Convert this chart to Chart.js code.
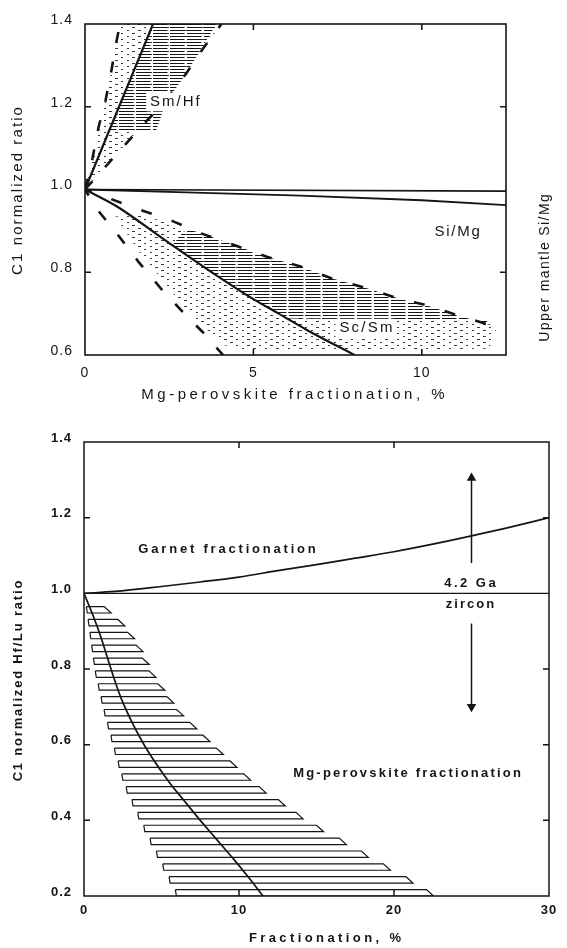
<!DOCTYPE html>
<html><head><meta charset="utf-8">
<script src="https://cdn.jsdelivr.net/npm/chart.js@4.4.1/dist/chart.umd.min.js"></script>
<style>
html,body{margin:0;padding:0;background:#fff;}
#wrap{position:relative;width:567px;height:948px;overflow:hidden;}
#c1{position:absolute;left:0;top:0;}
#c2{position:absolute;left:0;top:410px;}
</style></head><body>
<div id="wrap">
<canvas id="c1" width="567" height="410"></canvas>
<canvas id="c2" width="567" height="538"></canvas>
</div>
<script>
// ================= TOP PANEL DATA =================
const topXTicks = [0, 5, 10];
const topYTicks = [0.6, 0.8, 1.0, 1.2, 1.4];
const smHfLine = [[0, 1.0], [2.02, 1.4]];
const smHfLeftBound = [[0,1.0],[0.21,1.07],[0.4,1.15],[0.61,1.215],[0.79,1.29],[0.94,1.36],[1.04,1.40]];
const smHfRightBound = [[0,1.0],[0.55,1.05],[1.1,1.10],[1.76,1.16],[2.35,1.21],[3.0,1.28],[3.5,1.34],[4.05,1.40]];
const smHfDenseArea = [[0.7,1.14],[2.02,1.4],[3.9,1.4],[3.0,1.28],[2.4,1.21],[2.1,1.14]];
const siMgUpper = [[0,1.0],[12.5,0.996]];
const siMgLower = [[0,1.0],[3,0.993],[6.4,0.985],[10,0.974],[12.5,0.962]];
const scSmLine = [[0,1.0],[0.95,0.959],[2.3,0.882],[3.8,0.798],[5.0,0.735],[5.75,0.70],[6.6,0.66],[8.0,0.6]];
const scSmUpperBound = [[0,1.0],[0.74,0.978],[1.64,0.951],[2.62,0.923],[3.45,0.894],[4.55,0.862],[5.42,0.837],[6.4,0.814],[7.29,0.786],[8.39,0.761],[9.29,0.737],[10.06,0.722],[11.07,0.696],[12.05,0.672]];
const scSmLowerBound = [[0,1.0],[0.39,0.949],[1.0,0.888],[1.6,0.824],[2.27,0.759],[2.9,0.704],[3.5,0.655],[4.1,0.60]];
const scSmDenseArea = [[2.6,0.866],[3.8,0.798],[5.0,0.735],[5.75,0.70],[6.1,0.688],[11.9,0.684],[12.05,0.672],[11.07,0.696],[10.06,0.722],[9.29,0.737],[8.39,0.761],[7.29,0.786],[6.4,0.814],[5.42,0.837],[4.55,0.862],[3.45,0.894],[3.0,0.905]];
const scSmStippleArea = [[0.9,0.935],[1.6,0.85],[2.3,0.78],[2.9,0.72],[3.5,0.67],[4.1,0.625],[4.6,0.612],[12.0,0.615],[12.2,0.66],[12.05,0.672],[11.07,0.69],[10.06,0.715],[9.29,0.73],[8.39,0.755],[7.29,0.78],[6.4,0.808],[5.42,0.83],[4.55,0.855],[3.45,0.885],[2.62,0.915],[1.64,0.94]];
const upperMantleSiMg = [[12.84, 0.809]];

// ================= BOTTOM PANEL DATA =================
const botXTicks = [0, 10, 20, 30];
const botYTicks = [0.2, 0.4, 0.6, 0.8, 1.0, 1.2, 1.4];
const garnetCurve = [[0,1.0],[2,1.005],[5,1.018],[7.5,1.03],[10,1.043],[12.5,1.06],[15,1.076],[17.5,1.093],[20,1.11],[22.5,1.13],[25,1.152],[27.5,1.175],[30,1.2]];
const zirconLine = [[0,1.0],[30,1.0]];
const perovskiteCurve = [[0,1.0],[0.5,0.95],[1,0.895],[1.9,0.78],[2.45,0.717],[3.8,0.605],[5.4,0.506],[6.5,0.45],[7.5,0.40],[8.4,0.357],[9.6,0.30],[10.6,0.25],[11.55,0.2]];
const perovskiteLeftBound = [[0.1,0.98],[0.7,0.80],[1.25,0.70],[1.9,0.60],[2.6,0.50],[3.7,0.40],[4.9,0.30],[6.1,0.20]];
const perovskiteRightBound = [[0.4,0.98],[1.6,0.96],[2.2,0.93],[3.2,0.876],[4.1,0.80],[5.8,0.70],[8.3,0.60],[10.9,0.50],[12.9,0.445],[14.1,0.408],[16.6,0.35],[19.1,0.29],[21.5,0.234],[22.7,0.20]];
const zirconArrowUp = [[25,1.08],[25,1.305]];
const zirconArrowDown = [[25,0.92],[25,0.70]];

// ================= HELPERS =================
const FONT = "'Liberation Sans', Arial, Helvetica, sans-serif";
const INK = '#151515';
const pts = arr => arr.map(([x, y]) => ({x, y}));
const poly = (a, b) => [...a, ...b.slice().reverse()];

function makePattern(w, h, draw) {
  const c = document.createElement('canvas'); c.width = w; c.height = h;
  const g = c.getContext('2d'); draw(g);
  return g.createPattern(c, 'repeat');
}
const densePat = makePattern(17, 3, g => { g.fillStyle = INK; g.fillRect(0, 0, 14, 1); g.fillStyle='rgba(20,20,20,0.5)'; g.fillRect(14,0,1,1); });
const stipplePat = makePattern(23, 6, g => {
  g.fillStyle = 'rgba(20,20,20,0.85)';
  g.fillRect(0, 0, 3, 1); g.fillRect(12, 0, 2, 1);
  g.fillRect(6, 3, 2, 1); g.fillRect(17, 3, 3, 1);
});

const lineDS = (data, o = {}) => Object.assign({
  data: pts(data), showLine: true, borderColor: INK, backgroundColor: INK, borderWidth: 2,
  pointRadius: 0, pointHoverRadius: 0, fill: false, tension: 0, order: 1
}, o);
const areaDS = (data, pat) => ({
  data: pts(data), showLine: true, borderWidth: 0, borderColor: 'rgba(0,0,0,0)',
  backgroundColor: pat, pointRadius: 0, pointHoverRadius: 0, fill: 'shape', order: 5
});

function interpX(bound, yv) {
  for (let i = 0; i < bound.length - 1; i++) {
    const [x1, y1] = bound[i], [x2, y2] = bound[i + 1];
    if ((yv <= y1 && yv >= y2) || (yv >= y1 && yv <= y2)) {
      if (y1 === y2) return x1;
      return x1 + (x2 - x1) * (yv - y1) / (y2 - y1);
    }
  }
  return yv > bound[0][1] ? bound[0][0] : bound[bound.length - 1][0];
}

const spacingPlugin = {
  id: 'spacing',
  beforeDraw(chart, args, o) { chart.ctx.letterSpacing = (o && o.value) || '0px'; }
};

const framePlugin = {
  id: 'frame',
  afterDatasetsDraw(chart, args, o) {
    const {ctx, chartArea: a, scales} = chart;
    ctx.save();
    ctx.strokeStyle = INK; ctx.lineWidth = o.lw;
    ctx.strokeRect(a.left, a.top, a.right - a.left, a.bottom - a.top);
    ctx.beginPath();
    for (const v of o.xTicks) {
      const p = scales.x.getPixelForValue(v);
      ctx.moveTo(p, a.bottom); ctx.lineTo(p, a.bottom - o.len);
      ctx.moveTo(p, a.top); ctx.lineTo(p, a.top + o.len);
    }
    for (const v of o.yTicks) {
      const p = scales.y.getPixelForValue(v);
      ctx.moveTo(a.left, p); ctx.lineTo(a.left + o.len, p);
      ctx.moveTo(a.right, p); ctx.lineTo(a.right - o.len, p);
    }
    ctx.stroke();
    ctx.restore();
  }
};

const hatchPlugin = {
  id: 'hatch',
  beforeDatasetsDraw(chart, args, o) {
    if (!o || !o.left) return;
    const {ctx, scales: {x, y}, chartArea: a} = chart;
    ctx.save();
    ctx.beginPath(); ctx.rect(a.left, a.top, a.right - a.left, a.bottom - a.top); ctx.clip();
    ctx.strokeStyle = INK; ctx.lineWidth = 1.2; ctx.lineJoin = 'miter';
    for (let v = o.from; v <= o.to + 1e-9; v += o.step) {
      const vt = v + o.height;
      const yb = y.getPixelForValue(v), yt = y.getPixelForValue(vt);
      const xl = x.getPixelForValue(interpX(o.left, vt));
      const xr = x.getPixelForValue(interpX(o.right, vt));
      ctx.beginPath();
      ctx.moveTo(xl, yt); ctx.lineTo(xr, yt); ctx.lineTo(xr + o.hook, yb);
      ctx.lineTo(xl + 1, yb); ctx.lineTo(xl, yt);
      ctx.stroke();
    }
    ctx.restore();
  }
};

function drawText(ctx, t, x, y, it) {
  ctx.save();
  ctx.font = it.font; ctx.letterSpacing = it.spacing || '0px';
  ctx.textAlign = 'center'; ctx.textBaseline = 'middle';
  ctx.translate(x, y);
  if (it.rotate) ctx.rotate(it.rotate);
  const sp = parseFloat(it.spacing || '0');
  const w = ctx.measureText(t).width;
  if (it.bg) {
    ctx.fillStyle = '#fff';
    ctx.fillRect(-w / 2 - 3, -it.size * 0.62, w + 4, it.size * 1.24);
  }
  ctx.fillStyle = INK;
  ctx.fillText(t, sp / 2, 0);
  ctx.restore();
}

const notesPlugin = {
  id: 'notes',
  afterDraw(chart, args, o) {
    const {ctx, scales} = chart;
    for (const it of o.items) {
      let px = it.px, py = it.py;
      if (it.data) { px = scales.x.getPixelForValue(it.data[0]); py = scales.y.getPixelForValue(it.data[1]); }
      drawText(ctx, it.text, px, py, it);
    }
  }
};

Chart.defaults.font.family = FONT;
Chart.defaults.color = INK;
Chart.defaults.animation = false;

function axes(xmin, xmax, ymin, ymax, xt, yt, o) {
  return {
    x: {
      type: 'linear', min: xmin, max: xmax,
      grid: {display: false, drawTicks: false}, border: {display: false},
      afterBuildTicks: s => { s.ticks = xt.map(v => ({value: v})); },
      afterFit: s => { s.height = o.xh; },
      ticks: {padding: o.xpad, font: o.tickFont, color: INK, maxRotation: 0, autoSkip: false,
              callback: v => String(v)}
    },
    y: {
      type: 'linear', min: ymin, max: ymax,
      grid: {display: false, drawTicks: false}, border: {display: false},
      afterBuildTicks: s => { s.ticks = yt.map(v => ({value: v})); },
      afterFit: s => { s.width = o.yw; },
      ticks: {padding: o.ypad, labelOffset: o.lo, font: o.tickFont, color: INK, autoSkip: false,
              callback: v => Number(v).toFixed(1)}
    }
  };
}

// ================= TOP CHART =================
new Chart(document.getElementById('c1'), {
  type: 'scatter',
  data: {datasets: [
    areaDS(poly(smHfLeftBound, smHfRightBound), stipplePat),
    areaDS(smHfDenseArea, densePat),
    areaDS(scSmStippleArea, stipplePat),
    areaDS(scSmDenseArea, densePat),
    lineDS(smHfLine, {borderWidth: 2.2}),
    lineDS(smHfLeftBound, {borderWidth: 2.6, borderDash: [11, 19]}),
    lineDS(smHfRightBound, {borderWidth: 2.6, borderDash: [11, 19]}),
    lineDS(siMgUpper, {borderWidth: 1.6}),
    lineDS(siMgLower, {borderWidth: 1.8}),
    lineDS(scSmLine, {borderWidth: 2.2, cubicInterpolationMode: 'monotone'}),
    lineDS(scSmUpperBound, {borderWidth: 2.6, borderDash: [11, 21], borderDashOffset: 4}),
    lineDS(scSmLowerBound, {borderWidth: 2.6, borderDash: [11, 19], borderDashOffset: 4}),
    {data: pts(upperMantleSiMg), showLine: false, pointStyle: 'triangle', rotation: -90,
     pointRadius: 10, pointHoverRadius: 10, backgroundColor: '#8c8c8c', borderColor: '#555',
     borderWidth: 1, clip: false, order: 0}
  ]},
  options: {
    responsive: false, events: [],
    layout: {padding: {top: 24, right: 61, left: 0, bottom: 0}},
    scales: axes(0, 12.5, 0.6, 1.4, topXTicks, topYTicks,
      {xh: 55, yw: 85, xpad: 10, ypad: 12, lo: -4, tickFont: {family: FONT, size: 14}}),
    plugins: {
      legend: {display: false}, tooltip: {enabled: false},
      spacing: {value: '1px'},
      frame: {lw: 1.6, len: 6, xTicks: [5, 10], yTicks: [0.8, 1.2]},
      notes: {items: [
        {text: 'Mg-perovskite fractionation, %', px: 293, py: 395, font: '15px ' + FONT, size: 15, spacing: '3.5px'},
        {text: 'C1 normalized ratio', px: 18, py: 191, rotate: -Math.PI / 2, font: '15px ' + FONT, size: 15, spacing: '2.1px'},
        {text: 'Sm/Hf', data: [2.67, 1.2115], font: '15px ' + FONT, size: 15, spacing: '2px', bg: true},
        {text: 'Si/Mg', data: [11.05, 0.897], font: '15px ' + FONT, size: 15, spacing: '1.7px'},
        {text: 'Sc/Sm', data: [8.34, 0.665], font: '15px ' + FONT, size: 15, spacing: '2.2px', bg: true},
        {text: 'Upper mantle Si/Mg', px: 545, py: 268, rotate: -Math.PI / 2, font: '14px ' + FONT, size: 14, spacing: '1.4px'}
      ]}
    }
  },
  plugins: [spacingPlugin, framePlugin, notesPlugin]
});

// ================= BOTTOM CHART =================
new Chart(document.getElementById('c2'), {
  type: 'scatter',
  data: {datasets: [
    lineDS(zirconLine, {borderWidth: 1.4}),
    lineDS(garnetCurve, {borderWidth: 1.7, cubicInterpolationMode: 'monotone'}),
    lineDS(perovskiteCurve, {borderWidth: 1.7, cubicInterpolationMode: 'monotone'}),
    lineDS(zirconArrowUp, {borderWidth: 1.5, pointRadius: [0, 4], pointStyle: 'triangle', rotation: 0, clip: false}),
    lineDS(zirconArrowDown, {borderWidth: 1.5, pointRadius: [0, 4], pointStyle: 'triangle', rotation: 180, clip: false})
  ]},
  options: {
    responsive: false, events: [],
    layout: {padding: {top: 32, right: 18, left: 0, bottom: 0}},
    scales: axes(0, 30, 0.2, 1.4, botXTicks, botYTicks,
      {xh: 52, yw: 84, xpad: 7, ypad: 12, lo: -4, tickFont: {family: FONT, size: 13, weight: 'bold'}}),
    plugins: {
      legend: {display: false}, tooltip: {enabled: false},
      spacing: {value: '1px'},
      frame: {lw: 1.5, len: 6, xTicks: [10, 20], yTicks: [0.4, 0.6, 0.8, 1.2]},
      hatch: {left: perovskiteLeftBound, right: perovskiteRightBound, from: 0.2, to: 0.96, step: 0.034, height: 0.017, hook: 7},
      notes: {items: [
        {text: 'Garnet fractionation', data: [9.23, 1.115], font: 'bold 13px ' + FONT, size: 13, spacing: '2.8px'},
        {text: '4.2 Ga', data: [24.9, 1.027], font: 'bold 13px ' + FONT, size: 13, spacing: '2.5px'},
        {text: 'zircon', data: [24.9, 0.972], font: 'bold 13px ' + FONT, size: 13, spacing: '2px'},
        {text: 'Mg-perovskite fractionation', data: [20.84, 0.525], font: 'bold 13px ' + FONT, size: 13, spacing: '2.2px'},
        {text: 'Fractionation, %', px: 325, py: 528, font: 'bold 13px ' + FONT, size: 13, spacing: '3.4px'},
        {text: 'C1 normalized Hf/Lu ratio', px: 18, py: 271, rotate: -Math.PI / 2, font: 'bold 13px ' + FONT, size: 13, spacing: '1.8px'}
      ]}
    }
  },
  plugins: [spacingPlugin, hatchPlugin, framePlugin, notesPlugin]
});
</script>
</body></html>
